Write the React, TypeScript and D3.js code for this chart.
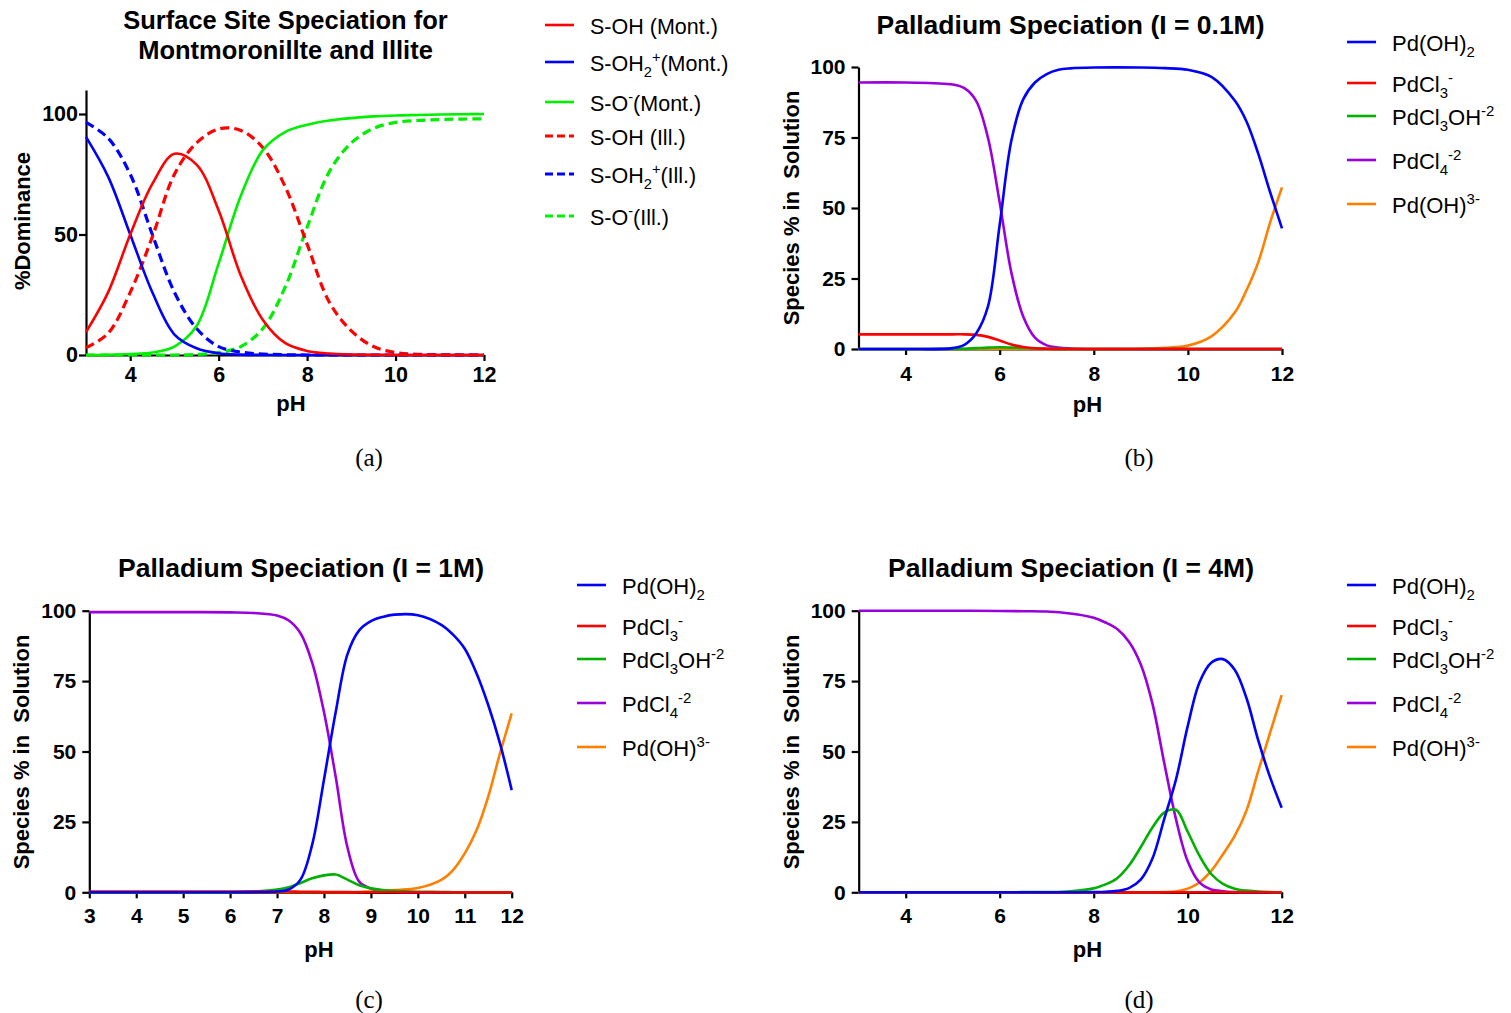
import React, { useEffect, useRef } from 'react';
import * as d3 from 'd3';

// ---- panel (a): surface site speciation ----
const phA = [3, 3.5, 4, 4.5, 5, 5.5, 6, 6.5, 7, 7.5, 8, 8.5, 9, 9.5, 10, 10.5, 11, 11.5, 12];
const montOH = [9.5, 26, 50, 71, 83.5, 79, 60, 33, 14.5, 5, 1.7, 0.6, 0.2, 0.1, 0, 0, 0, 0, 0];
const montOH2 = [90.5, 74, 50, 26, 8.5, 2.8, 0.7, 0.15, 0.05, 0, 0, 0, 0, 0, 0, 0, 0, 0, 0];
const montO = [0, 0.1, 0.4, 1, 3.5, 12, 38, 66, 85, 92.5, 95.5, 97.3, 98.3, 99, 99.4, 99.6, 99.8, 99.9, 100];
const illOH = [3, 9, 26, 49, 75, 88, 93.8, 93.2, 86, 70, 46, 22, 10, 3.5, 1, 0.3, 0.1, 0, 0];
const illOH2 = [96.5, 90, 75, 50, 26, 11, 3.5, 1.2, 0.4, 0.1, 0, 0, 0, 0, 0, 0, 0, 0, 0];
const illO = [0, 0, 0, 0, 0, 0.2, 1, 3.5, 11, 28, 53, 76, 88, 94, 96.5, 97.3, 97.7, 97.9, 98];

// ---- panel (b): I = 0.1M ----
const phB = [3, 4, 5, 5.25, 5.5, 5.75, 6, 6.25, 6.5, 6.75, 7, 7.25, 7.5, 8, 9, 9.5, 10, 10.5, 11, 11.25, 11.5, 11.75, 12];
const bPdOH2 = [0, 0, 0.3, 1.5, 5.5, 15, 44, 74, 88.5, 94.5, 97.5, 99, 99.5, 99.8, 99.8, 99.6, 99, 96.5, 88, 80.5, 69, 55.5, 42.8];
const bPdCl3 = [5.2, 5.2, 5.2, 5.2, 5, 4.3, 3, 1.6, 0.7, 0.25, 0.1, 0, 0, 0, 0, 0, 0, 0, 0, 0, 0, 0, 0];
const bPdCl3OH = [0, 0, 0.05, 0.1, 0.3, 0.5, 0.6, 0.5, 0.35, 0.2, 0.1, 0.05, 0, 0, 0, 0, 0, 0, 0, 0, 0, 0, 0];
const bPdCl4 = [94.5, 94.5, 93.8, 92.5, 88, 75, 52, 27, 11.5, 4, 1.3, 0.5, 0.2, 0, 0, 0, 0, 0, 0, 0, 0, 0, 0];
const bPdOH3 = [0, 0, 0, 0, 0, 0, 0, 0, 0, 0, 0, 0, 0, 0, 0.1, 0.4, 1.2, 4.5, 13, 21, 31, 45, 57.3];

// ---- panel (c): I = 1M ----
const phC = [3, 4, 5, 6, 6.5, 7, 7.25, 7.5, 7.75, 8, 8.25, 8.5, 8.75, 9, 9.25, 9.5, 10, 10.5, 10.75, 11, 11.25, 11.5, 11.75, 12];
const cPdOH2 = [0, 0, 0, 0, 0.1, 0.3, 1, 4.5, 17, 40, 64, 84.5, 93, 96.3, 97.8, 98.6, 98.4, 95, 91.5, 86.5, 77.8, 66.5, 52.9, 36.3];
const cPdCl3 = [0.3, 0.3, 0.3, 0.3, 0.3, 0.3, 0.3, 0.2, 0.2, 0.1, 0.1, 0.05, 0, 0, 0, 0, 0, 0, 0, 0, 0, 0, 0, 0];
const cPdCl3OH = [0, 0, 0, 0, 0.3, 1, 1.8, 3.3, 5, 6, 6.3, 4.5, 2.5, 1.4, 0.8, 0.5, 0.2, 0.1, 0, 0, 0, 0, 0, 0];
const cPdCl4 = [99.5, 99.5, 99.5, 99.4, 99.2, 98.3, 96.5, 92, 81.5, 64, 41, 16, 3.8, 1.3, 0.5, 0.2, 0, 0, 0, 0, 0, 0, 0, 0];
const cPdOH3 = [0, 0, 0, 0, 0, 0, 0, 0, 0, 0, 0, 0, 0.1, 0.3, 0.5, 0.8, 1.5, 4.4, 7.9, 13.8, 22, 34, 49.3, 63.5];

// ---- panel (d): I = 4M ----
const phD = [3, 4, 5, 6, 6.5, 7, 7.5, 8, 8.25, 8.5, 8.75, 9, 9.25, 9.5, 9.75, 10, 10.25, 10.5, 10.75, 11, 11.25, 11.5, 11.75, 12];
const dPdOH2 = [0, 0, 0, 0, 0, 0, 0, 0.1, 0.2, 0.5, 1.5, 4.5, 12, 26, 40, 59, 74.5, 81.5, 82.8, 79, 69, 54, 41, 30];
const dPdCl3 = [0, 0, 0, 0, 0, 0, 0, 0, 0, 0, 0, 0, 0, 0, 0, 0, 0, 0, 0, 0, 0, 0, 0, 0];
const dPdCl3OH = [0, 0, 0, 0, 0.05, 0.1, 0.4, 1.4, 2.8, 5, 9.5, 16, 23, 28.3, 29.3, 21.5, 13, 6.5, 3, 1.3, 0.6, 0.3, 0.1, 0];
const dPdCl4 = [100, 100, 100, 99.9, 99.8, 99.7, 99, 97.5, 95.8, 93.5, 89, 81, 67, 46, 26, 11, 3.5, 1, 0.4, 0.1, 0, 0, 0, 0];
const dPdOH3 = [0, 0, 0, 0, 0, 0, 0, 0, 0, 0, 0, 0, 0, 0.1, 0.3, 1.3, 3.5, 7.6, 13.5, 20, 29, 43, 56.5, 70];

// tick values and text
const xTicksEven = [4, 6, 8, 10, 12];
const xTicksAll = [3, 4, 5, 6, 7, 8, 9, 10, 11, 12];
const yTicksA = [0, 50, 100];
const yTicksPd = [0, 25, 50, 75, 100];

type Part = [string, 'n' | 'sub' | 'sup'];

const surfaceNames: Part[][] = [
  [['S-OH (Mont.)', 'n']],
  [['S-OH', 'n'], ['2', 'sub'], ['+', 'sup'], ['(Mont.)', 'n']],
  [['S-O', 'n'], ['-', 'sup'], ['(Mont.)', 'n']],
  [['S-OH (Ill.)', 'n']],
  [['S-OH', 'n'], ['2', 'sub'], ['+', 'sup'], ['(Ill.)', 'n']],
  [['S-O', 'n'], ['-', 'sup'], ['(Ill.)', 'n']],
];
const pdNames: Part[][] = [
  [['Pd(OH)', 'n'], ['2', 'sub']],
  [['PdCl', 'n'], ['3', 'sub'], ['-', 'sup']],
  [['PdCl', 'n'], ['3', 'sub'], ['OH', 'n'], ['-2', 'sup']],
  [['PdCl', 'n'], ['4', 'sub'], ['-2', 'sup']],
  [['Pd(OH)', 'n'], ['3-', 'sup']],
];

const surfaceColors = ['#ff0000', '#0000ff', '#00ee00', '#ff0000', '#0000ff', '#00ee00'];
const pdColors = ['#0000ff', '#ff0000', '#00b000', '#9a00dc', '#ff8000'];

const FONT = '"Liberation Sans", Arial, sans-serif';

const App = () => {
  const ref = useRef<SVGSVGElement | null>(null);

  useEffect(() => {
    if (!ref.current) return;
    const svg = d3.select(ref.current);
    svg.selectAll('*').remove();

    const pdLegendY = [42, 83, 116, 160, 204];

    const panels = [
      {
        ph: phA,
        series: [montOH, montOH2, montO, illOH, illOH2, illO],
        names: surfaceNames, colors: surfaceColors, dashedFrom: 3,
        xr: [86, 484], yr: [355, 89.9], yMax: 110,
        xTicks: xTicksEven, yTicks: yTicksA, tickFs: 21.5, xPad: 6, yPad: 1,
        title: ['Surface Site Speciation for', 'Montmoronillte and Illite'],
        titleX: 285.5, titleY: 28.5, titleFs: 25.5,
        yLabel: '%Dominance', yLabelX: 29.5, yLabelY: 221,
        xLabelX: 291, xLabelY: 410.5,
        legX: 545, legYs: [25, 62, 102, 136, 174, 216], legFs: 21.5,
        caption: '(a)', capX: 369, capY: 466,
      },
      {
        ph: phB,
        series: [bPdOH2, bPdCl3, bPdCl3OH, bPdCl4, bPdOH3],
        names: pdNames, colors: pdColors, dashedFrom: 99,
        xr: [858.5, 1282], yr: [349, 67], yMax: 100,
        xTicks: xTicksEven, yTicks: yTicksPd, tickFs: 21, xPad: 11, yPad: 6,
        title: ['Palladium Speciation (I = 0.1M)'],
        titleX: 1070.5, titleY: 33.5, titleFs: 26.5,
        yLabel: 'Species % in  Solution', yLabelX: 799, yLabelY: 208,
        xLabelX: 1087.5, xLabelY: 411.5,
        legX: 1347, legYs: pdLegendY, legFs: 22,
        caption: '(b)', capX: 1139, capY: 466,
      },
      {
        ph: phC,
        series: [cPdOH2, cPdCl3, cPdCl3OH, cPdCl4, cPdOH3],
        names: pdNames, colors: pdColors, dashedFrom: 99,
        xr: [89.3, 511.7], yr: [892.3, 610.7], yMax: 100,
        xTicks: xTicksAll, yTicks: yTicksPd, tickFs: 21, xPad: 10, yPad: 6,
        title: ['Palladium Speciation (I = 1M)'],
        titleX: 301, titleY: 577, titleFs: 26.5,
        yLabel: 'Species % in  Solution', yLabelX: 29, yLabelY: 752,
        xLabelX: 319, xLabelY: 956.5,
        legX: 577, legYs: pdLegendY.map((v) => v + 543), legFs: 22,
        caption: '(c)', capX: 369, capY: 1008,
      },
      {
        ph: phD,
        series: [dPdOH2, dPdCl3, dPdCl3OH, dPdCl4, dPdOH3],
        names: pdNames, colors: pdColors, dashedFrom: 99,
        xr: [858.7, 1281.7], yr: [892.3, 610.7], yMax: 100,
        xTicks: xTicksEven, yTicks: yTicksPd, tickFs: 21, xPad: 10, yPad: 6,
        title: ['Palladium Speciation (I = 4M)'],
        titleX: 1071, titleY: 577, titleFs: 26.5,
        yLabel: 'Species % in  Solution', yLabelX: 799, yLabelY: 752,
        xLabelX: 1087.5, xLabelY: 956.5,
        legX: 1347, legYs: pdLegendY.map((v) => v + 543), legFs: 22,
        caption: '(d)', capX: 1139, capY: 1008,
      },
    ];

    const richText = (sel: any, parts: Part[], fs: number) => {
      let off = 0;
      parts.forEach(([t, k]) => {
        const target = k === 'sub' ? fs * 0.3 : k === 'sup' ? -fs * 0.4 : 0;
        sel.append('tspan')
          .attr('dy', target - off)
          .attr('font-size', k === 'n' ? fs : fs * 0.68)
          .text(t);
        off = target;
      });
    };

    panels.forEach((p) => {
      const g = svg.append('g');
      const x = d3.scaleLinear().domain([3, 12]).range(p.xr);
      const y = d3.scaleLinear().domain([0, p.yMax]).range(p.yr);

      // axes
      const xAxis = d3.axisBottom(x).tickValues(p.xTicks).tickFormat(d3.format('d'))
        .tickSize(6).tickSizeOuter(0).tickPadding(p.xPad);
      const yAxis = d3.axisLeft(y).tickValues(p.yTicks).tickFormat(d3.format('d'))
        .tickSize(7).tickSizeOuter(0).tickPadding(p.yPad);

      [
        g.append('g').attr('transform', `translate(0,${p.yr[0]})`).call(xAxis),
        g.append('g').attr('transform', `translate(${p.xr[0]},0)`).call(yAxis),
      ].forEach((ax) => {
        ax.select('.domain').attr('stroke', '#000').attr('stroke-width', 2.2);
        ax.selectAll('.tick line').attr('stroke', '#000').attr('stroke-width', 2.2);
        ax.selectAll('.tick text')
          .attr('fill', '#000')
          .style('font-family', FONT)
          .style('font-weight', 'bold')
          .style('font-size', `${p.tickFs}px`);
      });

      // curves: first legend entry ends up on top
      const line = d3.line<number>()
        .x((_, i) => x(p.ph[i]))
        .y((d) => y(d))
        .curve(d3.curveCatmullRom.alpha(0.5));

      const order = p.series.map((_, i) => i).reverse();
      order.forEach((i) => {
        const dashed = i >= p.dashedFrom;
        g.append('path')
          .attr('d', line(p.series[i]))
          .attr('fill', 'none')
          .attr('stroke', p.colors[i])
          .attr('stroke-width', dashed ? 3.2 : 2.6)
          .attr('stroke-dasharray', dashed ? '9,5' : null)
          .attr('stroke-linejoin', 'round');
      });

      // title
      p.title.forEach((t, i) => {
        g.append('text')
          .attr('x', p.titleX)
          .attr('y', p.titleY + i * 30)
          .attr('text-anchor', 'middle')
          .style('font-family', FONT)
          .style('font-weight', 'bold')
          .style('font-size', `${p.titleFs}px`)
          .text(t);
      });

      // axis titles
      g.append('text')
        .attr('transform', `translate(${p.yLabelX},${p.yLabelY}) rotate(-90)`)
        .attr('text-anchor', 'middle')
        .style('font-family', FONT)
        .style('font-weight', 'bold')
        .style('font-size', '22px')
        .style('white-space', 'pre')
        .text(p.yLabel);

      g.append('text')
        .attr('x', p.xLabelX)
        .attr('y', p.xLabelY)
        .attr('text-anchor', 'middle')
        .style('font-family', FONT)
        .style('font-weight', 'bold')
        .style('font-size', '22px')
        .text('pH');

      // legend
      p.names.forEach((parts, i) => {
        const ly = p.legYs[i];
        const dashed = i >= p.dashedFrom;
        g.append('line')
          .attr('x1', p.legX).attr('x2', p.legX + 29)
          .attr('y1', ly).attr('y2', ly)
          .attr('stroke', p.colors[i])
          .attr('stroke-width', dashed ? 3.2 : 2.6)
          .attr('stroke-dasharray', dashed ? '8,4' : null);
        const t = g.append('text')
          .attr('x', p.legX + 45)
          .attr('y', ly + 8.5)
          .style('font-family', FONT)
          .style('font-size', `${p.legFs}px`)
          .attr('fill', '#000');
        richText(t, parts, p.legFs);
      });

      // caption
      g.append('text')
        .attr('x', p.capX)
        .attr('y', p.capY)
        .attr('text-anchor', 'middle')
        .style('font-family', '"Liberation Serif", "Times New Roman", serif')
        .style('font-size', '25px')
        .text(p.caption);
    });
  }, []);

  return (
    <div style={{ position: 'absolute', left: 0, top: 0, background: '#fff' }}>
      <svg ref={ref} width={1511} height={1013} style={{ display: 'block', background: '#fff' }} />
    </div>
  );
};

export default App;
